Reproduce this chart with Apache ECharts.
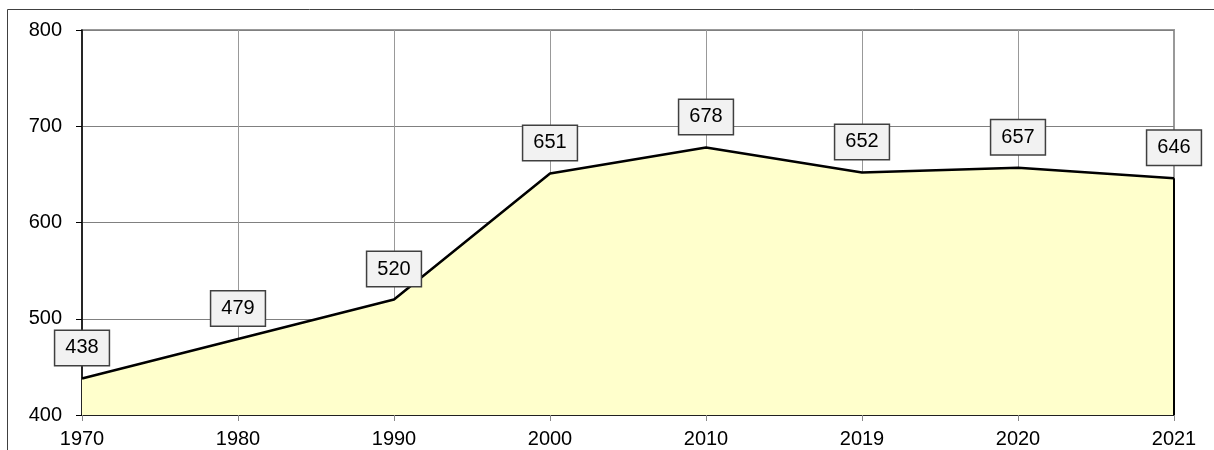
<!DOCTYPE html>
<html>
<head>
<meta charset="utf-8">
<script src="https://cdn.jsdelivr.net/npm/echarts@6/dist/echarts.min.js"></script>
<style>
html,body{margin:0;padding:0;background:#fff;}
#chart{width:1214px;height:450px;}
</style>
</head>
<body>
<div id="chart"></div>
<script>
const categories = ['1970', '1980', '1990', '2000', '2010', '2019', '2020', '2021'];
const values = [438, 479, 520, 651, 678, 652, 657, 646];
const yMin = 400, yMax = 800, yStep = 100;

const FONT = '"Liberation Sans", Arial, sans-serif';
const chart = echarts.init(document.getElementById('chart'), null, {renderer: 'canvas'});
const last = categories.length - 1;

chart.setOption({
  animation: false,
  backgroundColor: '#fff',
  graphic: [{
    type: 'rect',
    shape: {x: 7.5, y: 9.5, width: 1300, height: 600},
    style: {fill: 'none', stroke: '#404040', lineWidth: 1},
    silent: true
  }],
  grid: {
    left: 82, right: 40, top: 30, bottom: 35,
    show: true, borderColor: '#999', borderWidth: 2, backgroundColor: 'transparent'
  },
  xAxis: {
    type: 'category',
    data: categories,
    boundaryGap: false,
    axisLine: {show: true, lineStyle: {color: '#000', width: 1.5}},
    axisTick: {show: true, length: 6, lineStyle: {color: '#888'}},
    axisLabel: {color: '#000', fontSize: 20, fontFamily: FONT, margin: 14},
    splitLine: {show: true, lineStyle: {color: '#999', width: 1}}
  },
  yAxis: {
    type: 'value',
    min: yMin, max: yMax, interval: yStep,
    axisLine: {show: true, lineStyle: {color: '#000', width: 1.5}},
    axisTick: {show: true, length: 6, lineStyle: {color: '#000'}},
    axisLabel: {color: '#000', fontSize: 20, fontFamily: FONT, margin: 20},
    splitLine: {show: true, lineStyle: {color: '#808080', width: 1}}
  },
  series: [{
    type: 'line',
    data: values,
    symbol: 'circle',
    symbolSize: 1,
    showSymbol: true,
    itemStyle: {color: 'rgba(0,0,0,0)', borderWidth: 0},
    lineStyle: {color: '#000', width: 2.5},
    areaStyle: {color: '#FFFFCC', opacity: 1},
    label: {
      show: true,
      position: 'top',
      distance: 13,
      color: '#000',
      fontSize: 20,
      fontFamily: FONT,
      lineHeight: 22,
      backgroundColor: '#f2f2f2',
      borderColor: '#404040',
      borderWidth: 1.5,
      padding: [6, 10]
    },
    markLine: {
      silent: true,
      symbol: 'none',
      label: {show: false},
      lineStyle: {color: '#000', width: 2, type: 'solid'},
      data: [[{coord: [categories[last], yMin]}, {coord: [categories[last], values[last]]}]]
    }
  }]
});
</script>
</body>
</html>
